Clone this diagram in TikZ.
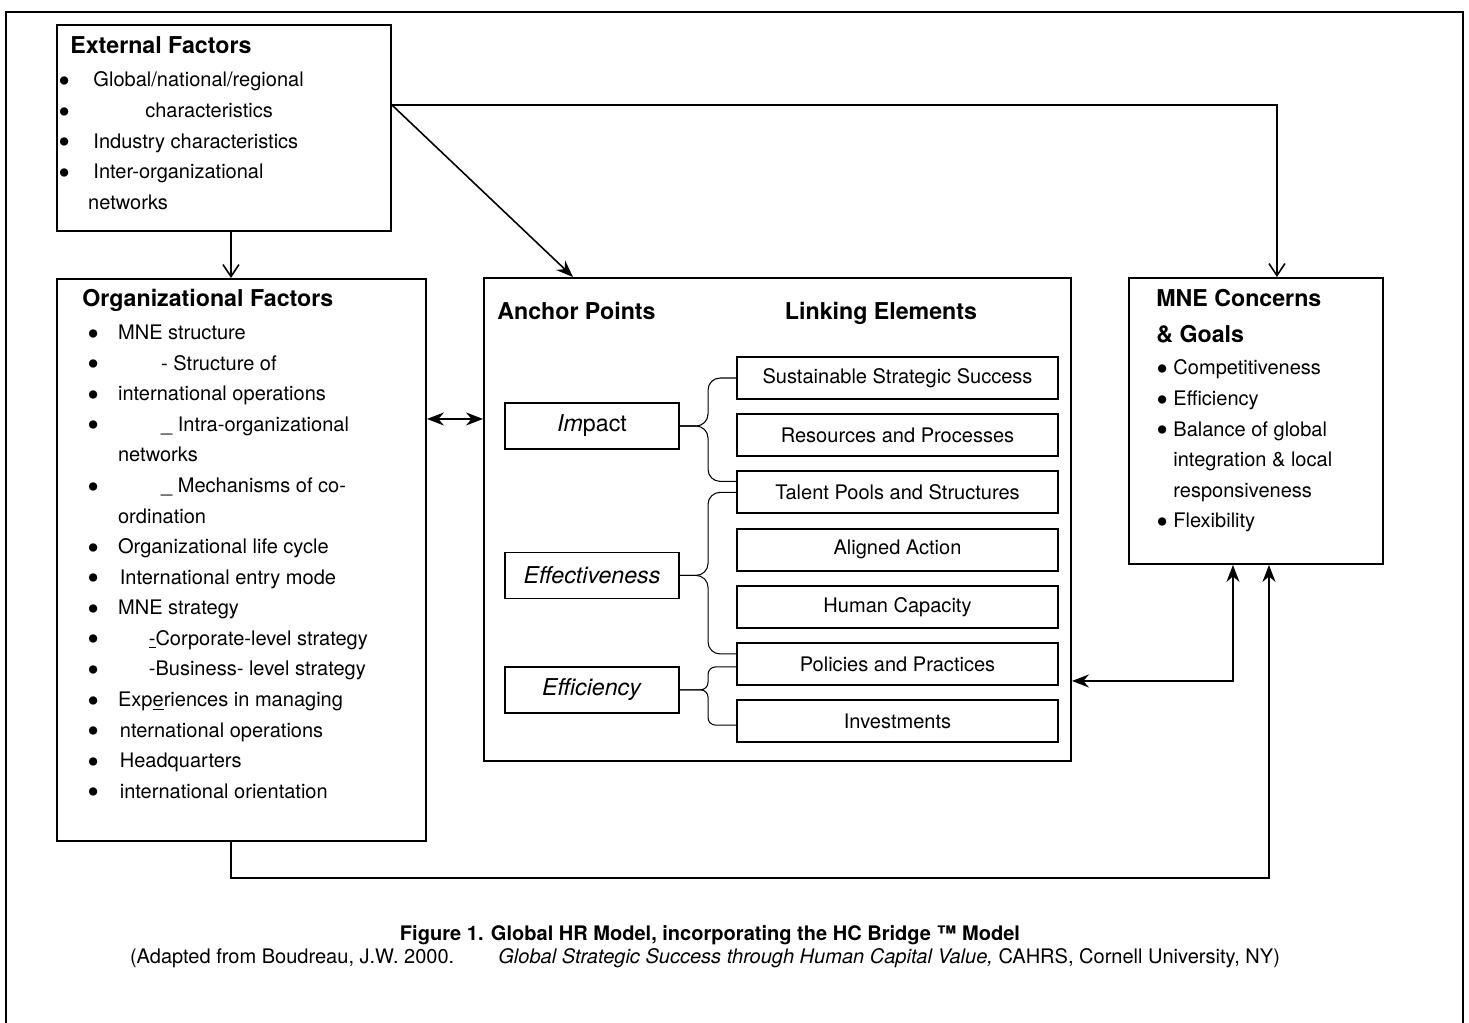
\documentclass[tikz,border=0pt]{standalone}
\usepackage{fontspec}
\setmainfont{TeX Gyre Heros}
\usetikzlibrary{positioning}
\usetikzlibrary{arrows.meta}
\usetikzlibrary{calc}

\newcommand{\bu}[1][17.5pt]{\makebox[#1][l]{\raisebox{-3.2pt}{\fontsize{19}{19}\selectfont\textbullet}}}
\newcommand{\bodyfont}{\fontsize{11.4}{17.4}\selectfont}
\newcommand{\headfont}{\fontsize{13.2}{20.5}\selectfont\bfseries}

\begin{document}
\begin{tikzpicture}
			[x=0.2mm, y=-0.2mm,
			 every node/.style={inner sep=0pt},
			 frame/.style={draw,line width=1.1pt,anchor=north west},
			 linkbox/.style={draw,line width=1.1pt,minimum width=64.2mm,minimum height=8.4mm,font=\bodyfont},
			 anchorbox/.style={draw,line width=0.8pt,minimum width=34.8mm,minimum height=9.2mm,font=\fontsize{13.2}{16}\selectfont},
			 list/.style={align=left,font=\bodyfont,anchor=north west},
			 head/.style={font=\headfont,anchor=base west},
			 connect/.style={line width=0.9pt},
			 arr/.style={connect,-{Stealth[length=3.4mm,width=2.6mm]}},
			 barb/.style={connect,-{Straight Barb[length=2.4mm,width=3.2mm]}},
			 darr/.style={connect,{Stealth[length=3.4mm,width=2.6mm]}-{Stealth[length=3.4mm,width=2.6mm]}},
			 brace/.style={line width=0.6pt,rounded corners=2.4mm},
		   node distance=2.65mm]
			\useasboundingbox (0,0) rectangle (1469,1023);
			\draw[line width=0.6pt] (6,1023) -- (6,12) -- (1463,12) -- (1463,1023);

			% outer boxes
			\node[frame,minimum width=66.8mm,minimum height=41.2mm] (ext) at (56,24) {};
			\node[frame,minimum width=73.8mm,minimum height=112.4mm] (org) at (56,278) {};
			\node[frame,minimum width=117.4mm,minimum height=96.6mm] (cen) at (483,277) {};
			\node[frame,minimum width=50.8mm,minimum height=57.2mm] (mne) at (1128,277) {};

			\node[head] (extT) at (70,53) {External Factors};
			\node[list] (extL) at (58,71.6) {%
			  \bu[20pt]Global/national/regional\\
			  \bu[49.5pt]characteristics\\
			  \bu[20pt]Industry characteristics\\
			  \bu[20pt]Inter-organizational\\
			  \hspace*{17pt}networks};

			\node[head] (orgT) at (82,306) {Organizational Factors};
			\node[list] (orgL) at (87,324.6) {%
			  \bu MNE structure\\
			  \bu[42pt]- Structure of\\
			  \bu international operations\\
			  \bu[42pt]\_ Intra-organizational\\
			  \hspace*{17.5pt}networks\\
			  \bu[42pt]\_ Mechanisms of co-\\
			  \hspace*{17.5pt}ordination\\
			  \bu Organizational life cycle\\
			  \bu[18.5pt]International entry mode\\
			  \bu MNE strategy\\
			  \bu[35pt]\underline{-}Corporate-level strategy\\
			  \bu[35pt]-Business- level strategy\\
			  \bu Exp\underline{e}riences in managing\\
			  \bu[18.5pt]nternational operations\\
			  \bu[18.5pt]Headquarters\\
			  \bu[18.5pt]international orientation};

			\node[font=\headfont,align=left,anchor=north west] (mneT) at (1156,289) {MNE Concerns\\\& Goals};
			\node[list] (mneL) at (1156,359.6) {%
			  \bu[9.7pt]Competitiveness\\
			  \bu[9.7pt]Efficiency\\
			  \bu[9.7pt]Balance of global\\
			  \hspace*{9.7pt}integration \& local\\
			  \hspace*{9.7pt}responsiveness\\
			  \bu[9.7pt]Flexibility};

			% HC Bridge
			\node[head] (apT) at (497,319) {Anchor Points};
			\node[font=\headfont,anchor=base] (leT) at (881,319) {Linking Elements};

			\node[linkbox] (ssc) at (897.5,378) {Sustainable Strategic Success};
			\node[linkbox] (rnp) [below=of ssc] {Resources and Processes};
			\node[linkbox] (tps) [below=of rnp] {Talent Pools and Structures};
			\node[linkbox] (aac) [below=of tps] {Aligned Action};
			\node[linkbox] (hca) [below=of aac] {Human Capacity};
			\node[linkbox] (pnp) [below=of hca] {Policies and Practices};
			\node[linkbox] (inv) [below=of pnp] {Investments};

			\node[anchorbox] (imp) at (592,426) {\textit{Im}pact};
			\node[anchorbox] (eff) [below=20.4mm of imp] {\textit{Effectiveness}};
			\node[anchorbox] (efc) [below=13.4mm of eff] {\textit{Efficiency}};

			\draw[brace] (imp.east) -| ($(ssc.west)+(-28,0)$) -- (ssc.west);
			\draw[brace] (imp.east) -| ($([yshift=2.2mm]tps.west)+(-28,0)$) -- ([yshift=2.2mm]tps.west);
			\draw[brace] (eff.east) -| ($(tps.west)+(-28,0)$) -- (tps.west);
			\draw[brace] (eff.east) -| ($([yshift=2mm]pnp.west)+(-28,0)$) -- ([yshift=2mm]pnp.west);
			\draw[brace,rounded corners=1.5mm] (efc.east) -| ($([yshift=-0.6mm]pnp.west)+(-28,0)$) -- ([yshift=-0.6mm]pnp.west);
			\draw[brace,rounded corners=1.5mm] (efc.east) -| ($([yshift=-0.8mm]inv.west)+(-28,0)$) -- ([yshift=-0.8mm]inv.west);

			% connectors
			\draw[barb] ([xshift=1.4mm]ext.south) -- ([xshift=-2.1mm]org.north);
			\draw[arr] ([yshift=4.6mm]ext.east) -- ([xshift=18mm]cen.north west);
			\draw[barb] ([yshift=4.6mm]ext.east) -| ([xshift=4.2mm]mne.north);
			\draw[darr] ([yshift=28.2mm]org.east) -- ([yshift=20.1mm]cen.west);
			\draw[darr] ([yshift=-32.3mm]cen.east) -| ([xshift=-4.6mm]mne.south);
			\draw[arr] ([xshift=-2.1mm]org.south) -- ++(0,36) -| ([xshift=2.6mm]mne.south);

			% caption
			\node[font=\bodyfont\bfseries] (cap1) at (710,935) {Figure 1. Global HR Model, incorporating the HC Bridge ™ Model};
			\node[font=\bodyfont] (cap2) at (705,958) {(Adapted from Boudreau, J.W. 2000.\hspace{2.2em}\textit{Global Strategic Success through Human Capital Value,} CAHRS, Cornell University, NY)};
		\end{tikzpicture}
\end{document}
